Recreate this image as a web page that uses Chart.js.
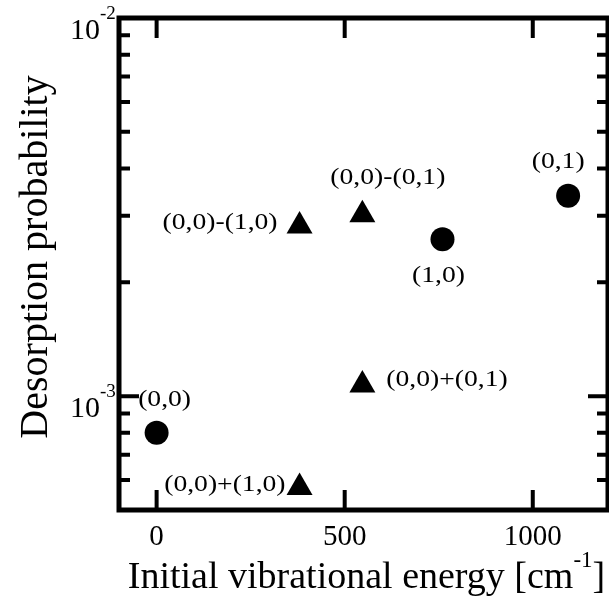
<!DOCTYPE html>
<html>
<head>
<meta charset="utf-8">
<script src="https://cdn.jsdelivr.net/npm/chart.js@4/dist/chart.umd.min.js"></script>
<style>
  html, body { margin: 0; padding: 0; background: #fff; }
  #wrap { width: 609px; height: 605px; }
</style>
</head>
<body>
<div id="wrap"><canvas id="c" width="609" height="605"></canvas></div>
<script>
// Single vibrational states (circles)
const circleEnergy = [0, 760, 1094];
const circleProb   = [8.0e-4, 2.60e-3, 3.39e-3];
const circleNames  = ['(0,0)', '(1,0)', '(0,1)'];

// Superposition states (triangles)
const triangleEnergy = [380, 380, 547, 547];
const triangleProb   = [5.73e-4, 2.82e-3, 3.02e-3, 1.07e-3];
const triangleNames  = ['(0,0)+(1,0)', '(0,0)-(1,0)', '(0,0)-(0,1)', '(0,0)+(0,1)'];

// Axis ticks
const xTickValues = [0, 500, 1000];
const yDecadeExponents = [-3, -2];

// Where each point label sits relative to its marker
const circleLabelPlace = [
  { dx: 8,   dy: -33, align: 'center' },
  { dx: -4,  dy: 36,  align: 'center' },
  { dx: -10, dy: -34, align: 'center' }
];
const triangleLabelPlace = [
  { dx: -14, dy: -3,  align: 'right' },
  { dx: -22, dy: -3,  align: 'right' },
  { dx: -32, dy: -37, align: 'left' },
  { dx: 24,  dy: -5,  align: 'left' }
];

const SERIF = '"Liberation Serif", "Times New Roman", serif';
const LABEL_STRETCH = 1.15;

const toPoints = (xs, ys) => xs.map((x, i) => ({ x, y: ys[i] }));

// Frame, inward ticks, decade labels, axis titles and point labels
const framePlugin = {
  id: 'frame',
  afterDatasetsDraw(chart) {
    const { ctx, chartArea: a, scales } = chart;
    const xs = scales.x, ys = scales.y;
    ctx.save();
    ctx.strokeStyle = '#000';
    ctx.fillStyle = '#000';

    // point labels
    ctx.font = '24px ' + SERIF;
    ctx.textBaseline = 'middle';
    const drawLabels = (dsIndex, names, places) => {
      const meta = chart.getDatasetMeta(dsIndex);
      meta.data.forEach((el, i) => {
        const p = places[i];
        ctx.save();
        ctx.translate(el.x + p.dx, el.y + p.dy);
        ctx.scale(LABEL_STRETCH, 1);
        ctx.textAlign = p.align;
        ctx.fillText(names[i], 0, 0);
        ctx.restore();
      });
    };
    drawLabels(0, circleNames, circleLabelPlace);
    drawLabels(1, triangleNames, triangleLabelPlace);

    // frame
    ctx.lineWidth = 5;
    ctx.strokeRect(a.left, a.top, a.right - a.left, a.bottom - a.top);

    // x ticks, bottom and top
    ctx.lineWidth = 4;
    ctx.beginPath();
    xTickValues.forEach(v => {
      const px = xs.getPixelForValue(v);
      ctx.moveTo(px, a.bottom); ctx.lineTo(px, a.bottom - 20);
      ctx.moveTo(px, a.top);    ctx.lineTo(px, a.top + 20);
    });
    // y ticks, left and right (minor short, decades long)
    for (let e = -4; e <= -2; e++) {
      for (let m = 1; m <= 9; m++) {
        const v = m * Math.pow(10, e);
        if (v < ys.min * 0.999 || v > ys.max * 1.001) continue;
        const py = ys.getPixelForValue(v);
        const len = (m === 1) ? 20 : 11;
        ctx.moveTo(a.left, py);  ctx.lineTo(a.left + len, py);
        ctx.moveTo(a.right, py); ctx.lineTo(a.right - len, py);
      }
    }
    ctx.stroke();

    // decade labels 10^n
    yDecadeExponents.forEach(e => {
      const py = ys.getPixelForValue(Math.pow(10, e));
      ctx.textAlign = 'right';
      ctx.textBaseline = 'alphabetic';
      ctx.font = '30px ' + SERIF;
      ctx.fillText('10', 100, py + 21);
      ctx.textAlign = 'left';
      ctx.font = '19px ' + SERIF;
      ctx.fillText(String(e), 100, py + 1);
    });

    // x axis title with superscript
    ctx.textBaseline = 'alphabetic';
    ctx.textAlign = 'left';
    const main = 'Initial vibrational energy [cm';
    const sup = '-1';
    const close = ']';
    ctx.font = '38px ' + SERIF;
    const wMain = ctx.measureText(main).width;
    const wClose = ctx.measureText(close).width;
    ctx.font = '23px ' + SERIF;
    const wSup = ctx.measureText(sup).width;
    const total = wMain + wSup + wClose;
    const tx = (a.left + a.right) / 2 - total / 2 + 3;
    const base = 588;
    ctx.font = '38px ' + SERIF;
    ctx.fillText(main, tx, base);
    ctx.font = '23px ' + SERIF;
    ctx.fillText(sup, tx + wMain, base - 21);
    ctx.font = '38px ' + SERIF;
    ctx.fillText(close, tx + wMain + wSup, base);

    // y axis title
    ctx.save();
    ctx.translate(47, 257);
    ctx.rotate(-Math.PI / 2);
    ctx.textAlign = 'center';
    ctx.font = '40px ' + SERIF;
    ctx.fillText('Desorption probability', 0, 0);
    ctx.restore();

    ctx.restore();
  }
};

new Chart(document.getElementById('c'), {
  type: 'scatter',
  data: {
    datasets: [
      {
        label: 'single states',
        data: toPoints(circleEnergy, circleProb),
        pointStyle: 'circle',
        pointRadius: 12,
        pointHoverRadius: 12,
        backgroundColor: '#000',
        borderColor: '#000',
        borderWidth: 0
      },
      {
        label: 'superpositions',
        data: toPoints(triangleEnergy, triangleProb),
        pointStyle: 'triangle',
        pointRadius: 15,
        pointHoverRadius: 15,
        backgroundColor: '#000',
        borderColor: '#000',
        borderWidth: 0
      }
    ]
  },
  options: {
    responsive: false,
    animation: false,
    events: [],
    layout: { autoPadding: false, padding: { top: 18, right: 1, left: 0, bottom: 0 } },
    plugins: { legend: { display: false }, tooltip: { enabled: false } },
    scales: {
      x: {
        type: 'linear',
        min: -100,
        max: 1200,
        afterBuildTicks: s => { s.ticks = xTickValues.map(v => ({ value: v })); },
        afterFit: s => { s.height = 95; s.paddingLeft = 0; s.paddingRight = 0; },
        border: { display: false },
        grid: { display: false, drawTicks: false },
        ticks: {
          color: '#000',
          padding: 10,
          font: { family: SERIF, size: 29 },
          maxRotation: 0,
          callback: v => String(v)
        }
      },
      y: {
        type: 'logarithmic',
        min: 5e-4,
        max: 1e-2,
        afterFit: s => { s.width = 119; s.paddingTop = 0; s.paddingBottom = 0; },
        border: { display: false },
        grid: { display: false, drawTicks: false },
        ticks: { display: false }
      }
    }
  },
  plugins: [framePlugin]
});
</script>
</body>
</html>
